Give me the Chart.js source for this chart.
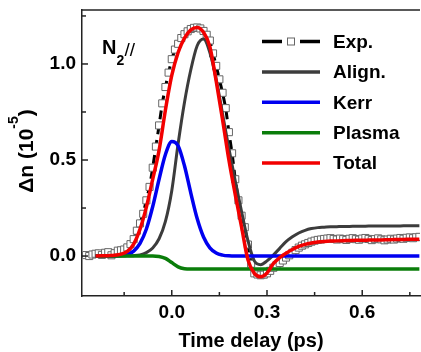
<!DOCTYPE html>
<html>
<head>
<meta charset="utf-8">
<script src="https://cdn.jsdelivr.net/npm/chart.js@4.4.0/dist/chart.umd.min.js"></script>
<style>
  html, body { margin: 0; padding: 0; background: #fff; overflow: hidden; }
  canvas { display: block; }
</style>
</head>
<body>
<!-- 5px wider than the window: chart.js keeps a 5px gap on the right, the window crops it -->
<canvas id="chart" width="426" height="352"></canvas>
<script>
// measured points (open squares)
const expX = [-0.27, -0.26, -0.25, -0.24, -0.23, -0.22, -0.21, -0.20, -0.19, -0.18,
  -0.17, -0.16, -0.15, -0.14, -0.13, -0.12, -0.11, -0.10, -0.09, -0.08,
  -0.07, -0.06, -0.05, -0.04, -0.03, -0.02, -0.01, 0.00, 0.01, 0.02,
  0.03, 0.04, 0.05, 0.06, 0.07, 0.08, 0.09, 0.10, 0.11, 0.12,
  0.13, 0.14, 0.15, 0.16, 0.17, 0.18, 0.19, 0.20, 0.21, 0.22,
  0.23, 0.24, 0.25, 0.26, 0.27, 0.28, 0.29, 0.30, 0.31, 0.32,
  0.33, 0.34, 0.35, 0.36, 0.37, 0.38, 0.39, 0.40, 0.41, 0.42,
  0.43, 0.44, 0.45, 0.46, 0.47, 0.48, 0.49, 0.50, 0.51, 0.52,
  0.53, 0.54, 0.55, 0.56, 0.57, 0.58, 0.59, 0.60, 0.61, 0.62,
  0.63, 0.64, 0.65, 0.66, 0.67, 0.68, 0.69, 0.70, 0.71, 0.72,
  0.73, 0.74, 0.75, 0.76, 0.77, 0.78];
const expY = [0.005, 0.000, 0.008, 0.012, 0.014, 0.006, 0.017, 0.020, 0.004, 0.015,
  0.028, 0.030, 0.034, 0.045, 0.062, 0.088, 0.132, 0.170, 0.220, 0.290,
  0.360, 0.460, 0.570, 0.680, 0.795, 0.880, 0.955, 1.025, 1.075, 1.105,
  1.135, 1.155, 1.170, 1.182, 1.188, 1.190, 1.185, 1.172, 1.152, 1.122,
  1.055, 0.990, 0.920, 0.850, 0.770, 0.645, 0.535, 0.400, 0.290, 0.210,
  0.150, 0.060, -0.040, -0.090, -0.096, -0.100, -0.097, -0.090, -0.077, -0.061,
  -0.047, -0.036, -0.023, -0.008, 0.004, 0.017, 0.031, 0.044, 0.054, 0.061,
  0.068, 0.075, 0.080, 0.084, 0.086, 0.089, 0.091, 0.093, 0.089, 0.086,
  0.091, 0.088, 0.084, 0.090, 0.093, 0.088, 0.085, 0.091, 0.094, 0.089,
  0.083, 0.088, 0.092, 0.087, 0.082, 0.086, 0.090, 0.086, 0.091, 0.094,
  0.090, 0.095, 0.097, 0.093, 0.098, 0.100];

// simulated curves
const modelX = [-0.24, -0.22, -0.20, -0.18, -0.16, -0.14, -0.12, -0.10, -0.08, -0.06,
  -0.04, -0.02, 0.00, 0.02, 0.04, 0.06, 0.08, 0.10, 0.12, 0.14,
  0.16, 0.18, 0.20, 0.22, 0.24, 0.26, 0.28, 0.30, 0.32, 0.34,
  0.36, 0.38, 0.40, 0.42, 0.44, 0.46, 0.48, 0.50, 0.52, 0.54,
  0.56, 0.58, 0.60, 0.62, 0.64, 0.66, 0.68, 0.70, 0.72, 0.74,
  0.76, 0.78];
const alignY = [0, 0, 0, 0, 0, 0.001, 0.002, 0.006, 0.018, 0.042,
  0.090, 0.180, 0.340, 0.585, 0.800, 0.970, 1.095, 1.130, 1.060, 0.920,
  0.740, 0.560, 0.390, 0.230, 0.080, -0.025, -0.045, -0.025, 0.005, 0.040,
  0.075, 0.100, 0.120, 0.134, 0.143, 0.148, 0.150, 0.152, 0.153, 0.154,
  0.154, 0.155, 0.155, 0.156, 0.156, 0.156, 0.157, 0.157, 0.157, 0.158,
  0.158, 0.158];
const kerrY = [0, 0, 0, 0.001, 0.003, 0.009, 0.026, 0.066, 0.141, 0.258,
  0.400, 0.529, 0.597, 0.574, 0.470, 0.328, 0.195, 0.099, 0.043, 0.016,
  0.005, 0.001, 0, 0, 0, 0, 0, 0, 0, 0,
  0, 0, 0, 0, 0, 0, 0, 0, 0, 0,
  0, 0, 0, 0, 0, 0, 0, 0, 0, 0,
  0, 0];
const plasmaY = [0, 0, 0, 0, 0, 0, 0, 0, 0, 0,
  -0.002, -0.012, -0.034, -0.056, -0.066, -0.068, -0.068, -0.068, -0.068, -0.068,
  -0.068, -0.068, -0.068, -0.068, -0.068, -0.068, -0.068, -0.068, -0.068, -0.068,
  -0.068, -0.068, -0.068, -0.068, -0.068, -0.068, -0.068, -0.068, -0.068, -0.068,
  -0.068, -0.068, -0.068, -0.068, -0.068, -0.068, -0.068, -0.068, -0.068, -0.068,
  -0.068, -0.068];
const totalY = [0, 0.001, 0.002, 0.004, 0.010, 0.024, 0.062, 0.140, 0.255, 0.400,
  0.550, 0.760, 0.940, 1.060, 1.135, 1.178, 1.190, 1.165, 1.090, 0.910,
  0.710, 0.500, 0.320, 0.150, -0.020, -0.090, -0.108, -0.088, -0.040, -0.008,
  0.015, 0.034, 0.050, 0.061, 0.068, 0.073, 0.076, 0.078, 0.079, 0.080,
  0.081, 0.082, 0.082, 0.083, 0.084, 0.084, 0.085, 0.086, 0.086, 0.087,
  0.087, 0.088];

const seriesNames = ['Exp.', 'Align.', 'Kerr', 'Plasma', 'Total'];
const seriesColors = ['#000000', '#3c3c3c', '#0000f0', '#0a7d0a', '#f20000'];

const xTicks = [0, 0.3, 0.6];
const xMinor = [-0.15, 0.15, 0.45, 0.75];
const yTicks = [0, 0.5, 1.0];
const yMinor = [0.25, 0.75, 1.25];
const xTitle = 'Time delay (ps)';

const FONT = "'Liberation Sans', Arial, Helvetica, sans-serif";
Chart.defaults.font.family = FONT;
Chart.defaults.color = '#000';

const pts = (xs, ys) => xs.map((x, i) => ({ x: x, y: ys[i] }));

function line(ctx, x1, y1, x2, y2) {
  ctx.beginPath();
  ctx.moveTo(x1, y1);
  ctx.lineTo(x2, y2);
  ctx.stroke();
}

const decor = {
  id: 'decor',
  afterDraw(chart) {
    const ctx = chart.ctx;
    const a = chart.chartArea;
    const xs = chart.scales.x;
    const ys = chart.scales.y;
    ctx.save();

    // top frame and inward ticks
    ctx.strokeStyle = '#222';
    ctx.lineWidth = 1.5;
    line(ctx, a.left, a.top, a.right, a.top);
    xTicks.forEach(v => { const p = xs.getPixelForValue(v); line(ctx, p, a.bottom, p, a.bottom - 6); });
    xMinor.forEach(v => { const p = xs.getPixelForValue(v); line(ctx, p, a.bottom, p, a.bottom - 4); });
    yTicks.forEach(v => { const p = ys.getPixelForValue(v); line(ctx, a.left, p, a.left + 6, p); });
    yMinor.forEach(v => { const p = ys.getPixelForValue(v); line(ctx, a.left, p, a.left + 4, p); });

    ctx.fillStyle = '#000';
    ctx.textBaseline = 'alphabetic';

    // x title
    ctx.font = 'bold 20px ' + FONT;
    ctx.textAlign = 'center';
    ctx.fillText(xTitle, (a.left + a.right) / 2, 347);

    // y title with superscript
    ctx.save();
    ctx.translate(32.5, 151);
    ctx.rotate(-Math.PI / 2);
    ctx.textAlign = 'left';
    const p1 = '\u0394n (10', p2 = '-5', p3 = ')';
    ctx.font = 'bold 21px ' + FONT;
    const w1 = ctx.measureText(p1).width, w3 = ctx.measureText(p3).width;
    ctx.font = 'bold 14px ' + FONT;
    const w2 = ctx.measureText(p2).width;
    let sx = -(w1 + w2 + w3) / 2;
    ctx.font = 'bold 21px ' + FONT;
    ctx.fillText(p1, sx, 0);
    ctx.font = 'bold 14px ' + FONT;
    ctx.fillText(p2, sx + w1, -15);
    ctx.font = 'bold 21px ' + FONT;
    ctx.fillText(p3, sx + w1 + w2, 0);
    ctx.restore();

    // sample label N2//
    ctx.textAlign = 'left';
    ctx.font = 'bold 20px ' + FONT;
    ctx.fillText('N', 102, 53.5);
    const nw = ctx.measureText('N').width;
    ctx.font = 'bold 14px ' + FONT;
    ctx.fillText('2', 102 + nw, 65);
    ctx.font = '19px ' + FONT;
    ctx.fillText('//', 102 + nw + 8, 56);

    // legend
    const lx0 = 262, lx1 = 320, tx = 333, ly0 = 41.5, dy = 30.4;
    seriesNames.forEach((name, i) => {
      const y = ly0 + i * dy;
      ctx.strokeStyle = seriesColors[i];
      ctx.lineWidth = 3.5;
      if (i === 0) {
        line(ctx, lx0, y, lx0 + 20, y);
        line(ctx, lx1 - 20, y, lx1, y);
        ctx.lineWidth = 1;
        ctx.strokeStyle = '#666';
        ctx.fillStyle = '#fff';
        ctx.fillRect(287, y - 4, 8, 8);
        ctx.strokeRect(287.5, y - 3.5, 7, 7);
      } else {
        line(ctx, lx0, y, lx1, y);
      }
      ctx.fillStyle = '#000';
      ctx.font = 'bold 19px ' + FONT;
      ctx.textBaseline = 'middle';
      ctx.fillText(name, tx, y + 1);
    });
    ctx.restore();
  }
};

const modelLine = (i, data, width, order) => ({
  label: seriesNames[i],
  data: data,
  borderColor: seriesColors[i],
  borderWidth: width,
  pointRadius: 0,
  cubicInterpolationMode: 'monotone',
  fill: false,
  order: order
});

new Chart(document.getElementById('chart'), {
  type: 'line',
  data: {
    datasets: [
      {
        label: seriesNames[0],
        data: pts(expX, expY),
        borderColor: '#000',
        borderWidth: 3,
        borderDash: [9, 6],
        tension: 0,
        pointStyle: 'rect',
        pointRadius: 5,
        pointBorderWidth: 1,
        pointBorderColor: '#666',
        pointBackgroundColor: '#fff',
        fill: false,
        order: 5
      },
      modelLine(1, pts(modelX, alignY), 3, 4),
      modelLine(2, pts(modelX, kerrY), 3.5, 3),
      modelLine(3, pts(modelX, plasmaY), 3.5, 2),
      modelLine(4, pts(modelX, totalY), 3.5, 1)
    ]
  },
  options: {
    responsive: false,
    animation: false,
    devicePixelRatio: 1,
    layout: { padding: { top: 10, left: 0, right: 0, bottom: 0 } },
    plugins: { legend: { display: false }, tooltip: { enabled: false } },
    scales: {
      x: {
        type: 'linear',
        min: -0.2828,
        max: 0.782,
        afterBuildTicks: s => { s.ticks = xTicks.map(v => ({ value: v })); },
        afterFit: s => { s.height = 56; s.paddingLeft = 0; s.paddingRight = 0; },
        grid: { display: false, drawTicks: false },
        border: { display: true, color: '#222', width: 1.5 },
        ticks: {
          autoSkip: false,
          maxRotation: 0,
          padding: 5,
          font: { size: 19, weight: 'bold' },
          callback: v => v.toFixed(1)
        }
      },
      y: {
        type: 'linear',
        min: -0.208,
        max: 1.281,
        afterBuildTicks: s => { s.ticks = yTicks.map(v => ({ value: v })); },
        afterFit: s => { s.width = 82; s.paddingTop = 0; s.paddingBottom = 0; },
        grid: { display: false, drawTicks: false },
        border: { display: true, color: '#222', width: 1.5 },
        ticks: {
          padding: 6,
          font: { size: 19, weight: 'bold' },
          callback: v => v.toFixed(1)
        }
      }
    }
  },
  plugins: [decor]
});
</script>
</body>
</html>
